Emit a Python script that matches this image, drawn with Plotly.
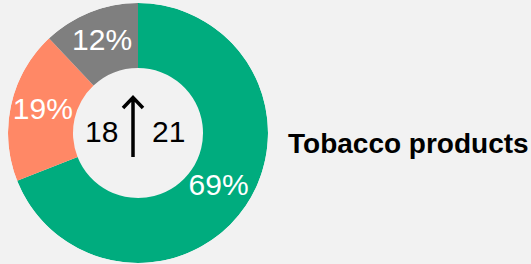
import plotly.graph_objects as go

# Data
segments = ["A", "B", "C"]
shares = [69, 19, 12]
colors = ["#00AC7E", "#FF8866", "#7F7F7F"]
value_before = "18"
value_after = "21"
category = "Tobacco products"

W, H = 531, 264
HOLE = 0.5

def px(x):
    return x / W

def py(y):
    return 1 - y / H

dom = dict(x=[px(8), px(268)], y=[py(263), py(3)])
FONT = "Liberation Sans, Arial, sans-serif"

total = sum(shares)
mids, widths = [], []
acc = 0
for s in shares:
    mids.append((acc + s / 2) / total * 360)
    widths.append(s / total * 360)
    acc += s

fig = go.Figure()
# donut ring drawn on a polar scale
fig.add_trace(go.Barpolar(
    r=[1 - HOLE] * len(shares),
    base=[HOLE] * len(shares),
    theta=mids,
    width=widths,
    marker=dict(color=colors, line=dict(width=0)),
    showlegend=False,
    hoverinfo="skip",
))
# percentage labels
fig.add_trace(go.Scatterpolar(
    r=[(1 + HOLE) / 2] * len(shares),
    theta=mids,
    mode="text",
    text=[f"{s}%" for s in shares],
    textposition="middle center",
    textfont=dict(family=FONT, size=30, color="white"),
    showlegend=False,
    hoverinfo="skip",
))

fig.update_layout(
    polar=dict(
        domain=dom,
        bgcolor="rgba(0,0,0,0)",
        radialaxis=dict(range=[0, 1], visible=False, showgrid=False),
        angularaxis=dict(rotation=90, direction="clockwise", visible=False, showgrid=False),
        hole=0,
    )
)

font_c = dict(family=FONT, size=30, color="black")
fig.add_annotation(x=px(101.5), y=py(131), xref="paper", yref="paper", text=value_before,
                   showarrow=False, font=font_c, xanchor="center", yanchor="middle")
fig.add_annotation(x=px(168), y=py(131), xref="paper", yref="paper", text=value_after,
                   showarrow=False, font=font_c, xanchor="center", yanchor="middle")
fig.add_annotation(x=px(286), y=py(143), xref="paper", yref="paper", text="<b>" + category + "</b>",
                   showarrow=False, font=dict(family=FONT, size=28, color="black"),
                   xanchor="left", yanchor="middle")

# arrow
ax_ = 133
fig.add_shape(type="path", xref="paper", yref="paper",
              path=f"M {px(ax_)},{py(157)} L {px(ax_)},{py(97.5)} M {px(ax_-10)},{py(108)} L {px(ax_)},{py(97.5)} L {px(ax_+10)},{py(108)}",
              line=dict(color="black", width=3.5))

fig.update_layout(
    width=W, height=H,
    margin=dict(l=0, r=0, t=0, b=0),
    paper_bgcolor="#F2F2F2",
    plot_bgcolor="#F2F2F2",
)
fig.write_html("out.html", config={"displayModeBar": False},
               post_script="document.body.style.margin='0px';")
